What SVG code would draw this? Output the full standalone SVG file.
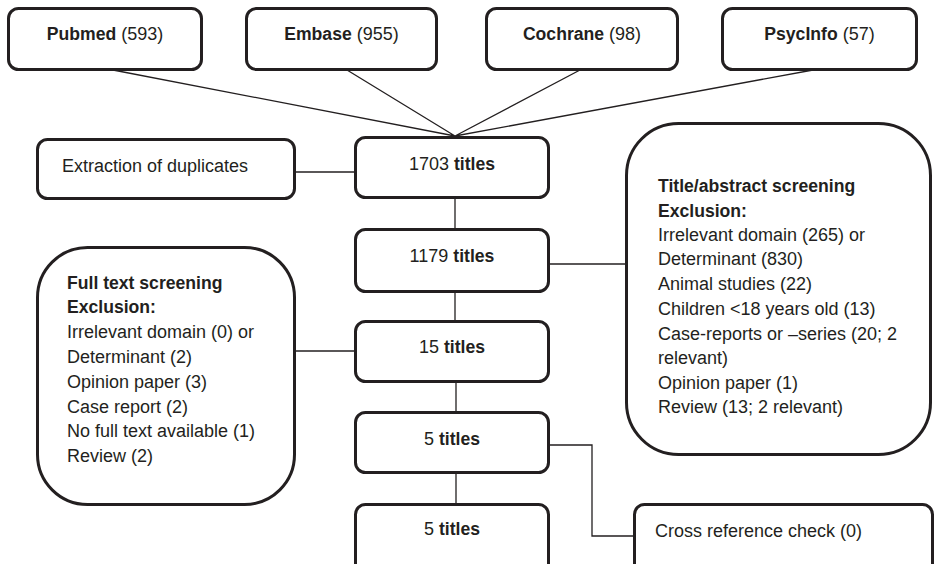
<svg xmlns="http://www.w3.org/2000/svg" width="935" height="564" viewBox="0 0 935 564">
<style>
.box{fill:#ffffff;stroke:#231f20;stroke-width:3}
.ln{fill:none;stroke:#231f20;stroke-width:1.3}
text{font-family:"Liberation Sans",Arial,sans-serif;font-size:18px;fill:#231f20}
.c{text-anchor:middle}
.b{font-weight:bold;font-size:17.6px}
</style>
<rect width="935" height="564" fill="#ffffff"/>
<g id="connectors">
<path class="ln" d="M113 70 L455 136 M347 70 L455 136 M580 70 L455 136 M813 70 L455 136"/>
<path class="ln" d="M295 172 L356 172"/>
<path class="ln" d="M455 198 L455 230"/>
<path class="ln" d="M549 264 L626 264"/>
<path class="ln" d="M455 292 L455 322"/>
<path class="ln" d="M295 351 L356 351"/>
<path class="ln" d="M456 382 L456 413"/>
<path class="ln" d="M456 473 L456 505"/>
<path class="ln" d="M549 445 L592 445 L592 536 L634 536"/>
</g>
<g id="pubmed"><rect class="box" x="8.5" y="8.5" width="193" height="61" rx="10"/><text class="c" x="105" y="40"><tspan class="b">Pubmed</tspan> (593)</text></g>
<g id="embase"><rect class="box" x="246.5" y="8.5" width="190" height="61" rx="10"/><text class="c" x="341.5" y="40"><tspan class="b">Embase</tspan> (955)</text></g>
<g id="cochrane"><rect class="box" x="486.5" y="8.5" width="191" height="61" rx="10"/><text class="c" x="582" y="40"><tspan class="b">Cochrane</tspan> (98)</text></g>
<g id="psycinfo"><rect class="box" x="722.5" y="8.5" width="194" height="61" rx="10"/><text class="c" x="819.5" y="40"><tspan class="b">PsycInfo</tspan> (57)</text></g>
<g id="duplicates"><rect class="box" x="37.5" y="139.5" width="257" height="59" rx="10"/><text x="62" y="172">Extraction of duplicates</text></g>
<g id="t1703"><rect class="box" x="355.5" y="137.5" width="193" height="60" rx="10"/><text class="c" x="452" y="170">1703 <tspan class="b">titles</tspan></text></g>
<g id="t1179"><rect class="box" x="355.5" y="229.5" width="193" height="62" rx="10"/><text class="c" x="452" y="262">1179 <tspan class="b">titles</tspan></text></g>
<g id="titleabstract"><rect class="box" x="626.5" y="123.5" width="304" height="331" rx="52"/>
<text x="658" y="192" class="b">Title/abstract screening</text>
<text x="658" y="217" class="b">Exclusion:</text>
<text x="658" y="241">Irrelevant domain (265) or</text>
<text x="658" y="265">Determinant (830)</text>
<text x="658" y="290">Animal studies (22)</text>
<text x="658" y="315">Children &lt;18 years old (13)</text>
<text x="658" y="340">Case-reports or –series (20; 2</text>
<text x="658" y="364">relevant)</text>
<text x="658" y="389">Opinion paper (1)</text>
<text x="658" y="413">Review (13; 2 relevant)</text>
</g>
<g id="fulltext"><rect class="box" x="37.5" y="247.5" width="257" height="257" rx="50"/>
<text x="67" y="289" class="b">Full text screening</text>
<text x="67" y="313" class="b">Exclusion:</text>
<text x="67" y="338">Irrelevant domain (0) or</text>
<text x="67" y="363">Determinant (2)</text>
<text x="67" y="388">Opinion paper (3)</text>
<text x="67" y="413">Case report (2)</text>
<text x="67" y="437">No full text available (1)</text>
<text x="67" y="462">Review (2)</text>
</g>
<g id="t15"><rect class="box" x="355.5" y="321.5" width="193" height="60" rx="10"/><text class="c" x="452" y="353">15 <tspan class="b">titles</tspan></text></g>
<g id="t5a"><rect class="box" x="355.5" y="412.5" width="193" height="60" rx="10"/><text class="c" x="452" y="445">5 <tspan class="b">titles</tspan></text></g>
<g id="t5b"><rect class="box" x="355.5" y="504.5" width="193" height="70" rx="10"/><text class="c" x="452" y="535">5 <tspan class="b">titles</tspan></text></g>
<g id="crossref"><rect class="box" x="634.5" y="504.5" width="298" height="70" rx="10"/><text x="655" y="537">Cross reference check (0)</text></g>
</svg>
